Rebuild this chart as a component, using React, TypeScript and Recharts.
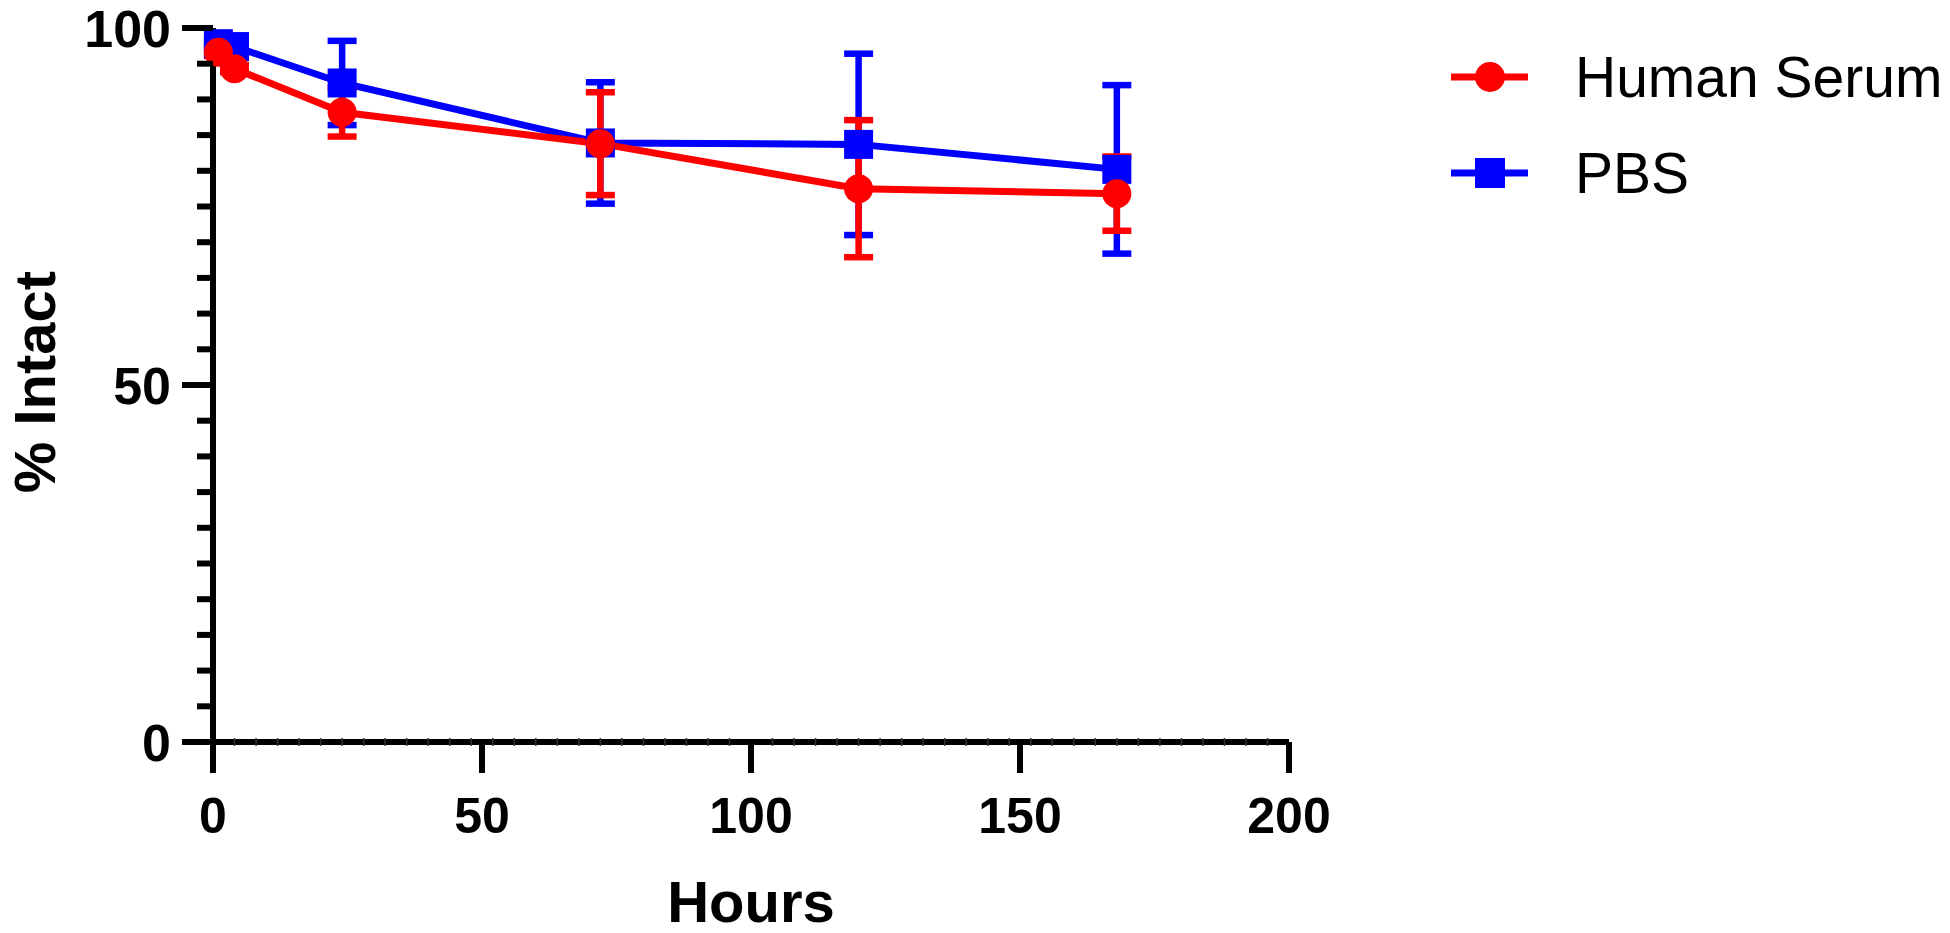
import { ComposedChart, Line, XAxis, YAxis, ErrorBar, Legend, Label } from 'recharts';

// sampling times (hours)
const hours = [1, 4, 24, 72, 120, 168];

// Human Serum: mean and error (% intact)
const serumMean = [96.6, 94.3, 88.2, 83.8, 77.5, 76.8];
const serumErr = [0.5, 0.5, 3.4, 7.2, 9.6, 5.2];

// PBS: mean and error (% intact)
const pbsMean = [97.8, 97.4, 92.3, 83.9, 83.7, 80.2];
const pbsErr = [0.5, 0.5, 5.9, 8.5, 12.7, 11.8];

const xMajorTicks = [0, 50, 100, 150, 200];
const yMajorTicks = [0, 50, 100];

const RED = '#ff0000';
const BLUE = '#0000ff';
const FONT = '"Liberation Sans", Arial, Helvetica, sans-serif';

const data = hours.map((h, i) => ({
  hours: h,
  serum: serumMean[i],
  serumErr: serumErr[i],
  pbs: pbsMean[i],
  pbsErr: pbsErr[i],
}));

// minor ticks: every 4 h on x, every 5 % on y
const xTicks = Array.from(new Set([...xMajorTicks, ...Array.from({ length: 51 }, (_, i) => i * 4)])).sort((a, b) => a - b);
const yTicks = Array.from({ length: 21 }, (_, i) => i * 5);

function YTick(props: any) {
  const { x, y, payload } = props;
  const major = yMajorTicks.includes(payload.value);
  const len = major ? 31 : 16;
  return (
    <g>
      <line x1={x - len} x2={x} y1={y} y2={y} stroke="#000" strokeWidth={6} />
      {major && (
        <text
          x={x - len - 11}
          y={y}
          dy="0.36em"
          textAnchor="end"
          fontSize={52}
          fontWeight="bold"
          fontFamily={FONT}
          fill="#000"
        >
          {payload.value}
        </text>
      )}
    </g>
  );
}

function XTick(props: any) {
  const { x, y, payload } = props;
  const major = xMajorTicks.includes(payload.value);
  if (!major) {
    return <line x1={x} x2={x} y1={y - 4} y2={y + 4} stroke="#333" strokeWidth={1.5} />;
  }
  return (
    <g>
      <line x1={x} x2={x} y1={y} y2={y + 31} stroke="#000" strokeWidth={6} />
      <text
        x={x}
        y={y + 91}
        textAnchor="middle"
        fontSize={50}
        fontWeight="bold"
        fontFamily={FONT}
        fill="#000"
      >
        {payload.value}
      </text>
    </g>
  );
}

function SquareDot(props: any) {
  const { cx, cy, index } = props;
  if (cx == null || cy == null) return null;
  return <rect key={`sq-${index}`} x={cx - 14.5} y={cy - 14.5} width={29} height={29} fill={BLUE} />;
}

function CircleDot(props: any) {
  const { cx, cy, index } = props;
  if (cx == null || cy == null) return null;
  return <circle key={`ci-${index}`} cx={cx} cy={cy} r={14.5} fill={RED} />;
}

const legendOrder = ['Human Serum', 'PBS'];

function LegendContent(props: any) {
  const items = [...(props.payload || [])].sort(
    (a: any, b: any) => legendOrder.indexOf(a.value) - legendOrder.indexOf(b.value)
  );
  return (
    <svg width={510} height={200}>
      {items.map((item: any, i: number) => {
        const cy = 47 + i * 96;
        const color = item.value === 'PBS' ? BLUE : RED;
        return (
          <g key={item.value}>
            <line x1={11} x2={88} y1={cy} y2={cy} stroke={color} strokeWidth={7} />
            {item.value === 'PBS' ? (
              <rect x={35} y={cy - 15} width={30} height={30} fill={color} />
            ) : (
              <circle cx={50} cy={cy} r={15} fill={color} />
            )}
            <text x={135} y={cy + 20} fontSize={57} fontFamily={FONT} fill="#000">
              {item.value}
            </text>
          </g>
        );
      })}
    </svg>
  );
}

export default function App() {
  return (
    <div style={{ width: 1950, height: 933, background: '#fff' }}>
      <style>{'body{margin:0}'}</style>
      <ComposedChart
        width={1950}
        height={933}
        data={data}
        margin={{ top: 28, right: 661, bottom: 0, left: 0 }}
      >
        <XAxis
          dataKey="hours"
          type="number"
          domain={[0, 200]}
          ticks={xTicks}
          interval={0}
          height={191}
          tickSize={0}
          tickMargin={0}
          tickLine={false}
          axisLine={{ stroke: '#000', strokeWidth: 6 }}
          tick={<XTick />}
        >
          <Label
            content={(p: any) => {
              const vb = p.viewBox || {};
              return (
                <text
                  x={vb.x + vb.width / 2}
                  y={vb.y + 180}
                  textAnchor="middle"
                  fontSize={58}
                  fontWeight="bold"
                  fontFamily={FONT}
                  fill="#000"
                >
                  Hours
                </text>
              );
            }}
          />
        </XAxis>
        <YAxis
          type="number"
          domain={[0, 100]}
          ticks={yTicks}
          interval={0}
          width={213}
          tickSize={0}
          tickMargin={0}
          tickLine={false}
          axisLine={{ stroke: '#000', strokeWidth: 6 }}
          tick={<YTick />}
        >
          <Label
            content={(p: any) => {
              const vb = p.viewBox || {};
              const cx = vb.x + 34;
              const cy = vb.y + vb.height / 2 - 3;
              return (
                <text
                  x={cx}
                  y={cy}
                  dy="0.36em"
                  textAnchor="middle"
                  transform={`rotate(-90, ${cx}, ${cy})`}
                  fontSize={58}
                  fontWeight="bold"
                  fontFamily={FONT}
                  fill="#000"
                >
                  % Intact
                </text>
              );
            }}
          />
        </YAxis>
        <Legend
          layout="vertical"
          align="center"
          verticalAlign="middle"
          wrapperStyle={{ left: 1440, top: 30, width: 510, height: 200 }}
          content={<LegendContent />}
        />
        <Line
          type="linear"
          dataKey="pbs"
          name="PBS"
          stroke={BLUE}
          strokeWidth={7}
          dot={<SquareDot />}
          activeDot={false}
          isAnimationActive={false}
        >
          <ErrorBar dataKey="pbsErr" direction="y" width={14.5} strokeWidth={6.5} stroke={BLUE} />
        </Line>
        <Line
          type="linear"
          dataKey="serum"
          name="Human Serum"
          stroke={RED}
          strokeWidth={7}
          dot={<CircleDot />}
          activeDot={false}
          isAnimationActive={false}
        >
          <ErrorBar dataKey="serumErr" direction="y" width={14.5} strokeWidth={6.5} stroke={RED} />
        </Line>
      </ComposedChart>
    </div>
  );
}
